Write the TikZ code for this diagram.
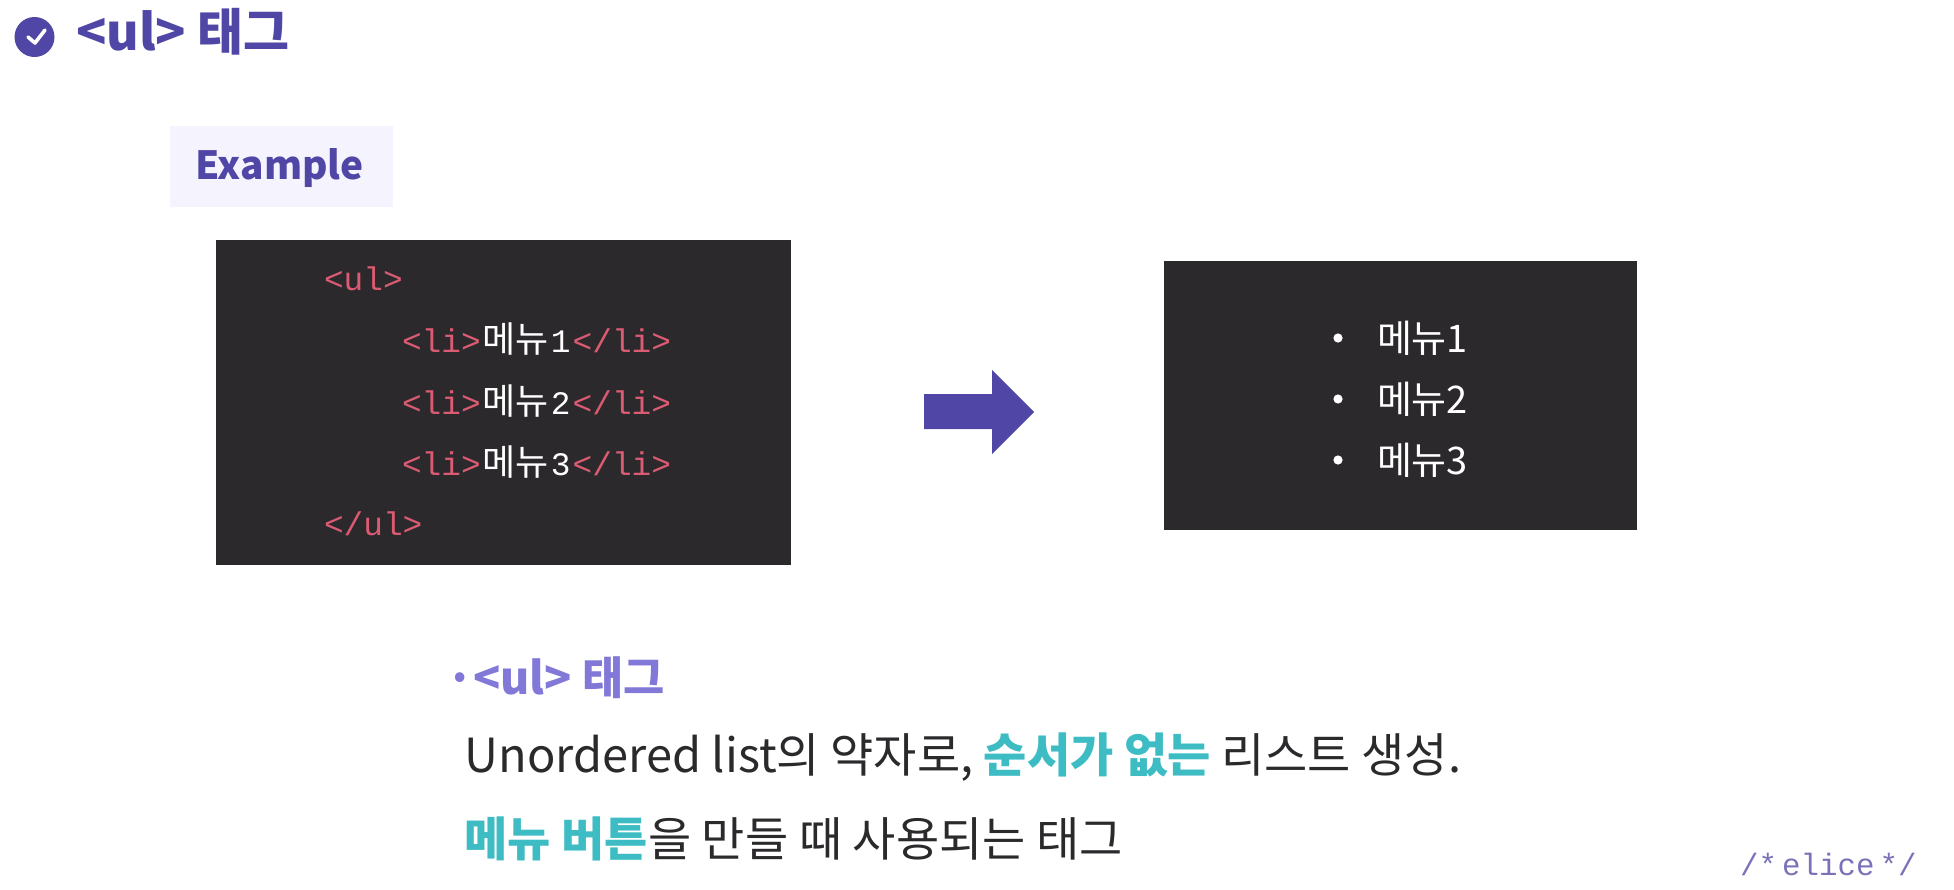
\documentclass[tikz,border=0pt]{standalone}
\usepackage{xcolor}
\usepackage{fontspec}
\setmainfont{Noto Sans CJK KR}
\setmonofont{Liberation Mono}
\definecolor{elicepurple}{HTML}{4F46A5}
\definecolor{eliceviolet}{HTML}{8278D8}
\definecolor{eliceteal}{HTML}{3DBCC4}
\definecolor{elicedark}{HTML}{2B292C}
\definecolor{elicepale}{HTML}{F5F3FE}
\definecolor{eliceink}{HTML}{7A72B8}
\definecolor{tagred}{HTML}{DB5B73}
\newcommand{\tagmark}[1]{{\fontsize{16.4}{20}\ttfamily\color{tagred}#1}}
\newcommand{\menuname}[1]{{\hspace{1pt}\fontsize{18}{20}\selectfont 메뉴\hspace{1pt}\fontsize{16.4}{20}\ttfamily #1\hspace{1pt}}}
\newcommand{\hilite}[1]{{\bfseries\color{eliceteal}#1}}

\begin{document}
\begin{tikzpicture}[%
  x=0.5pt,y=-0.5pt,
  every node/.style={inner sep=0pt,outer sep=0pt},
  textline/.style={anchor=base west,font=\fontsize{23.5}{28}\selectfont,text=elicedark},
  heading/.style={anchor=base west,font=\fontsize{22.4}{27}\bfseries,text=eliceviolet},
  codeline/.style={anchor=base west,text=white},
  panel/.style={fill=elicedark,anchor=north west},
  listbullet/.style={circle,fill=white,minimum size=4.6pt},
  listitem/.style={anchor=base west,text=white,font=\fontsize{19}{22}\selectfont}]
  \useasboundingbox (0,0) rectangle (1954,889);

  \node (checkicon) [circle,fill=elicepurple,minimum size=20pt] at (34.5,37) {};
  \draw [white,line width=1.8pt,line cap=round,line join=round]
    (28,37) -- (35,43) -- (45,30);
  \node (title) [anchor=base west,text=elicepurple,font=\fontsize{25}{30}\bfseries] at (76,50.5) {<ul> 태그};

  \node (examplebox) [fill=elicepale,anchor=north west,minimum width=111.5pt,minimum height=40.5pt] at (170,126) {};
  \node (example) [anchor=base west,text=elicepurple,font=\fontsize{19.4}{24}\bfseries] at (195.5,179) {Example};

  \node (codepanel) [panel,minimum width=287.5pt,minimum height=162.5pt] at (216,240) {};
  \node (ulopen) [codeline] at (324,290) {\tagmark{<ul>}};
  \node (itemone) [codeline] at (402,352.5) {\tagmark{<li>}\menuname{1}\tagmark{</li>}};
  \node (itemtwo) [codeline] at (402,414) {\tagmark{<li>}\menuname{2}\tagmark{</li>}};
  \node (itemthree) [codeline] at (402,475) {\tagmark{<li>}\menuname{3}\tagmark{</li>}};
  \node (ulclose) [codeline] at (324,535.5) {\tagmark{</ul>}};

  \fill [elicepurple] (924,394) -- (992,394) -- (992,370) -- (1034,412)
    -- (992,454) -- (992,429) -- (924,429) -- cycle;

  \node (resultpanel) [panel,minimum width=236.5pt,minimum height=134.5pt] at (1164,261) {};
  \node (bulletone) [listbullet] at (1338,338) {};
  \node (bullettwo) [listbullet] at (1338,399) {};
  \node (bulletthree) [listbullet] at (1338,460) {};
  \node (menuone) [listitem] at (1377,352) {메뉴1};
  \node (menutwo) [listitem] at (1377,413) {메뉴2};
  \node (menuthree) [listitem] at (1377,474) {메뉴3};

  \node (ulhead) [heading] at (446,694) {·<ul> 태그};
  \node (lineone) [textline] at (464.5,772) {Unordered list의 약자로, \hilite{순서가 없는} 리스트 생성.};
  \node (linetwo) [textline] at (464.5,856) {\hilite{메뉴 버튼}을 만들 때 사용되는 태그};

  \node (elicemark) [anchor=base west,text=eliceink,font=\fontsize{15.4}{18}\ttfamily] at (1740,875) {/*\,elice\,*/};
\end{tikzpicture}
\end{document}
